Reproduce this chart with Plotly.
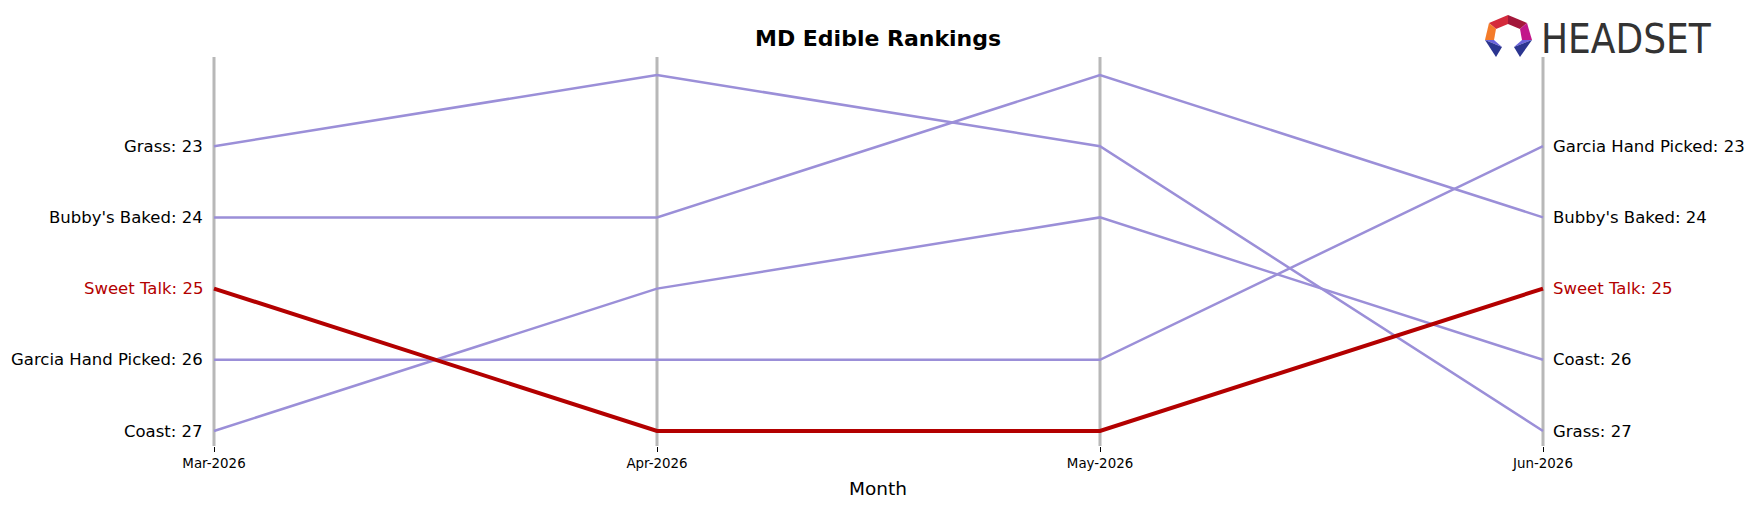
import plotly.graph_objects as go

# ---------------- data ----------------
months = ["Mar-2026", "Apr-2026", "May-2026", "Jun-2026"]
brands = ["Grass", "Bubby's Baked", "Garcia Hand Picked", "Coast", "Sweet Talk"]
ranks = {
    "Grass": [23, 22, 23, 27],
    "Bubby's Baked": [24, 24, 22, 24],
    "Garcia Hand Picked": [26, 26, 26, 23],
    "Coast": [27, 25, 24, 26],
    "Sweet Talk": [25, 27, 27, 25],
}
highlight = "Sweet Talk"
title_text = "MD Edible Rankings"
x_title = "Month"

# ---------------- style ----------------
W, H = 1756, 507
ML, MR, MT, MB = 150, 150, 57, 61
PW, PH = W - ML - MR, H - MT - MB
PURPLE = "#9b8fd8"
RED = "#b30000"
GRAY = "#b8b8b8"
FONT = "DejaVu Sans, Verdana, sans-serif"

def xp(px):
    return (px - ML) / PW

def yp(py):
    return (H - MB - py) / PH

# axis ranges from pixel anchors (first month at 214px, last at 1543px;
# rank 22 at 75px, rank 27 at 431px)
xunit = (1543 - 214) / (len(months) - 1)
x_range = [0 - (214 - ML) / xunit, (len(months) - 1) + (W - MR - 1543) / xunit]
yunit = (431 - 75) / 5
y_range = [27 + (H - MB - 431) / yunit, 22 - (75 - MT) / yunit]

xs = list(range(len(months)))
fig = go.Figure()

order = [b for b in brands if b != highlight] + [highlight]
for b in order:
    hl = b == highlight
    fig.add_trace(go.Scatter(
        x=xs, y=ranks[b], mode="lines", name=b,
        line=dict(color=RED if hl else PURPLE, width=4 if hl else 2.5),
        showlegend=False, hoverinfo="skip",
    ))

shapes = []
for i in xs:
    shapes.append(dict(type="line", xref="x", yref="paper", x0=i, x1=i, y0=0, y1=1,
                       line=dict(color=GRAY, width=3), layer="below"))

annotations = []
for b in brands:
    hl = b == highlight
    col = RED if hl else "black"
    annotations.append(dict(x=0, y=ranks[b][0], xref="x", yref="y",
                            text=f"{b}: {ranks[b][0]}", showarrow=False,
                            xanchor="right", yanchor="middle", xshift=-9,
                            font=dict(family=FONT, size=16.5, color=col)))
    annotations.append(dict(x=xs[-1], y=ranks[b][-1], xref="x", yref="y",
                            text=f"{b}: {ranks[b][-1]}", showarrow=False,
                            xanchor="left", yanchor="middle", xshift=8,
                            font=dict(family=FONT, size=16.5, color=col)))

annotations.append(dict(x=0.5, y=yp(38), xref="paper", yref="paper", text=f"<b>{title_text}</b>",
                        showarrow=False, xanchor="center", yanchor="middle",
                        font=dict(family=FONT, size=22, color="black")))
annotations.append(dict(x=0.5, y=yp(488), xref="paper", yref="paper", text=x_title,
                        showarrow=False, xanchor="center", yanchor="middle",
                        font=dict(family=FONT, size=18.5, color="black")))

# ---------------- logo ----------------
annotations.append(dict(x=xp(1539), y=yp(38.5), xref="paper", yref="paper", text="HEADSET",
                        showarrow=False, xanchor="left", yanchor="middle",
                        font=dict(family="DejaVu Sans Condensed, DejaVu Sans, sans-serif",
                                  size=40, color="#333333")))

T, UL, L, BL, BLi = (1508, 15), (1489, 23), (1485, 40), (1496, 57), (1502, 47)
UR, R, BR, BRi = (1527, 23), (1532, 40), (1520, 57), (1514, 47)
Ti, ULi, Li, URi, Ri = (1508, 24), (1496, 29), (1494, 40), (1520, 29), (1522, 40)
polys = [
    ([T, UL, ULi, Ti], "#d42a3c"),
    ([T, Ti, URi, UR], "#a3173a"),
    ([UL, L, Li, ULi], "#f47b2a"),
    ([UR, URi, Ri, R], "#c2168a"),
    ([L, Li, BLi], "#6a62dc"),
    ([L, BLi, BL], "#2b3590"),
    ([R, Ri, BRi], "#6a62dc"),
    ([R, BRi, BR], "#2b3590"),
]
for pts, col in polys:
    path = "M " + " L ".join(f"{xp(a):.5f},{yp(b):.5f}" for a, b in pts) + " Z"
    shapes.append(dict(type="path", xref="paper", yref="paper", path=path,
                       fillcolor=col, line=dict(width=0), layer="above"))

fig.update_layout(
    width=W, height=H,
    margin=dict(l=ML, r=MR, t=MT, b=MB),
    paper_bgcolor="white", plot_bgcolor="white",
    shapes=shapes, annotations=annotations,
    xaxis=dict(range=x_range, tickvals=xs, ticktext=months, showgrid=False, zeroline=False,
               showline=False, ticks="outside", ticklen=5, tickwidth=1, tickcolor="black",
               tickfont=dict(family=FONT, size=13.4, color="black")),
    yaxis=dict(range=y_range, visible=False, showgrid=False, zeroline=False),
    font=dict(family=FONT),
)

fig.write_html("out.html")
